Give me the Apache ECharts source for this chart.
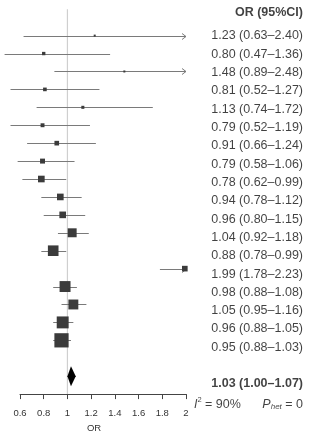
<!DOCTYPE html>
<html>
<head>
<meta charset="utf-8">
<script src="https://cdn.jsdelivr.net/npm/echarts@6/dist/echarts.min.js"></script>
<style>
html, body { margin: 0; padding: 0; background: #fff; }
#chart { width: 309px; height: 438px; }
</style>
</head>
<body>
<div id="chart"></div>
<script>
// study rows, top to bottom
var orValues = [1.23, 0.80, 1.48, 0.81, 1.13, 0.79, 0.91, 0.79, 0.78, 0.94, 0.96, 1.04, 0.88, 1.99, 0.98, 1.05, 0.96, 0.95];
var lower    = [0.63, 0.47, 0.89, 0.52, 0.74, 0.52, 0.66, 0.58, 0.62, 0.78, 0.80, 0.92, 0.78, 1.78, 0.88, 0.95, 0.88, 0.88];
var upper    = [2.40, 1.36, 2.48, 1.27, 1.72, 1.19, 1.24, 1.06, 0.99, 1.12, 1.15, 1.18, 0.99, 2.23, 1.08, 1.16, 1.05, 1.03];
// weights (%)
var weights  = [0.4, 1.1, 0.4, 1.3, 0.9, 1.5, 2.1, 2.4, 4.3, 4.3, 4.3, 7.8, 11.0, 3.1, 11.7, 9.6, 13.9, 19.8];
// pooled estimate: OR, lower, upper
var pooled = [1.03, 1.00, 1.07];
var iSquared = '90%';
var pHet = '0';
var xTicks = [0.6, 0.8, 1, 1.2, 1.4, 1.6, 1.8, 2];

var FONT = '"Liberation Sans", Arial, sans-serif';
var xMin = xTicks[0], xMax = xTicks[xTicks.length - 1];
var pooledRow = orValues.length + 2;

function fmt(v) { return v.toFixed(2); }

var ciData = orValues.map(function (v, i) {
    return [v, i + 1, lower[i], upper[i], weights[i]];
});

var textData = orValues.map(function (v, i) {
    return { value: [1, i + 1], label: { formatter: fmt(v) + ' (' + fmt(lower[i]) + '\u2013' + fmt(upper[i]) + ')' } };
});
textData.push({ value: [1, -0.3], label: { formatter: 'OR (95%CI)', fontWeight: 'bold' } });
textData.push({ value: [1, pooledRow], label: { formatter: fmt(pooled[0]) + ' (' + fmt(pooled[1]) + '\u2013' + fmt(pooled[2]) + ')', fontWeight: 'bold' } });
textData.push({ value: [0.45, pooledRow + 1.1], label: { formatter: '{i|I}{sup|2}{n| = ' + iSquared + '}' } });
textData.push({ value: [1, pooledRow + 1.1], label: { formatter: '{i|P}{sub|het}{n| = ' + pHet + '}' } });

var chart = echarts.init(document.getElementById('chart'));

var option = {
    animation: false,
    grid: [
        { left: 20, right: 123, top: 17.7, bottom: 35.7 },
        { left: 190, right: 6, top: 17.7, bottom: 35.7 }
    ],
    xAxis: [
        {
            type: 'value', gridIndex: 0, position: 'bottom',
            min: xMin, max: xMax, interval: 0.2,
            name: 'OR', nameLocation: 'middle', nameGap: 26,
            nameTextStyle: { fontFamily: FONT, fontSize: 9.5, color: '#333', padding: [0, 18, 0, 0] },
            axisLine: { onZero: false, lineStyle: { color: '#444', width: 1 } },
            axisTick: { length: 5, lineStyle: { color: '#444' } },
            axisLabel: { fontFamily: FONT, fontSize: 9.5, color: '#333', margin: 14 },
            splitLine: { show: false }
        },
        { type: 'value', gridIndex: 1, min: 0, max: 1, show: false }
    ],
    yAxis: [
        { type: 'value', gridIndex: 0, min: 0, max: 21, inverse: true, show: false },
        { type: 'value', gridIndex: 1, min: 0, max: 21, inverse: true, show: false }
    ],
    series: [
        {
            // reference line at OR = 1
            type: 'line', xAxisIndex: 0, yAxisIndex: 0,
            data: [[1, -0.47], [1, 21]],
            symbol: 'none', clip: false, silent: true, z: 1,
            lineStyle: { color: '#cfcfcf', width: 1.2 }
        },
        {
            type: 'custom', xAxisIndex: 0, yAxisIndex: 0,
            clip: false, z: 3,
            encode: { x: [0, 2, 3], y: 1 },
            data: ciData,
            renderItem: function (params, api) {
                var row = api.value(1);
                var c = api.coord([api.value(0), row]);
                var l = api.coord([api.value(2), row]);
                var hi = api.value(3);
                var r = api.coord([Math.min(hi, xMax), row]);
                var s = Math.max(2, Math.sqrt(api.value(4)) * 3.2);
                var y = Math.round(c[1]) + 0.5;
                var children = [{
                    type: 'line',
                    shape: { x1: l[0], y1: y, x2: r[0], y2: y },
                    style: { stroke: '#7a7a7a', lineWidth: 1 }
                }];
                if (hi > xMax) {
                    children.push({
                        type: 'polyline',
                        shape: { points: [[r[0] - 4, y - 3], [r[0], y], [r[0] - 4, y + 3]] },
                        style: { stroke: '#7a7a7a', lineWidth: 1, fill: null }
                    });
                }
                children.push({
                    type: 'rect',
                    shape: { x: c[0] - s / 2, y: c[1] - s / 2, width: s, height: s },
                    style: { fill: '#3b3b3b' }
                });
                return { type: 'group', children: children };
            }
        },
        {
            // pooled diamond
            type: 'custom', xAxisIndex: 0, yAxisIndex: 0,
            clip: false, z: 3,
            encode: { x: [0, 2, 3], y: 1 },
            data: [[pooled[0], pooledRow, pooled[1], pooled[2]]],
            renderItem: function (params, api) {
                var row = api.value(1);
                var c = api.coord([api.value(0), row]);
                var l = api.coord([api.value(2), row]);
                var r = api.coord([api.value(3), row]);
                var h = 10;
                return {
                    type: 'polygon',
                    shape: { points: [[l[0], c[1]], [c[0], c[1] - h], [r[0], c[1]], [c[0], c[1] + h]] },
                    style: { fill: '#000' }
                };
            }
        },
        {
            type: 'scatter', xAxisIndex: 1, yAxisIndex: 1,
            symbolSize: 0, clip: false, silent: true,
            data: textData,
            label: {
                show: true, position: [0, 0], align: 'right', verticalAlign: 'middle',
                fontFamily: FONT, fontSize: 12.5, color: '#111',
                rich: {
                    i: { fontFamily: FONT, fontSize: 12.5, fontStyle: 'italic', color: '#111' },
                    n: { fontFamily: FONT, fontSize: 12.5, color: '#111' },
                    sup: { fontFamily: FONT, fontSize: 7.5, color: '#111', padding: [0, 0, 8, 0] },
                    sub: { fontFamily: FONT, fontSize: 8, fontStyle: 'italic', color: '#111', padding: [6, 0, 0, 0] }
                }
            }
        }
    ]
};

chart.setOption(option);
</script>
</body>
</html>
